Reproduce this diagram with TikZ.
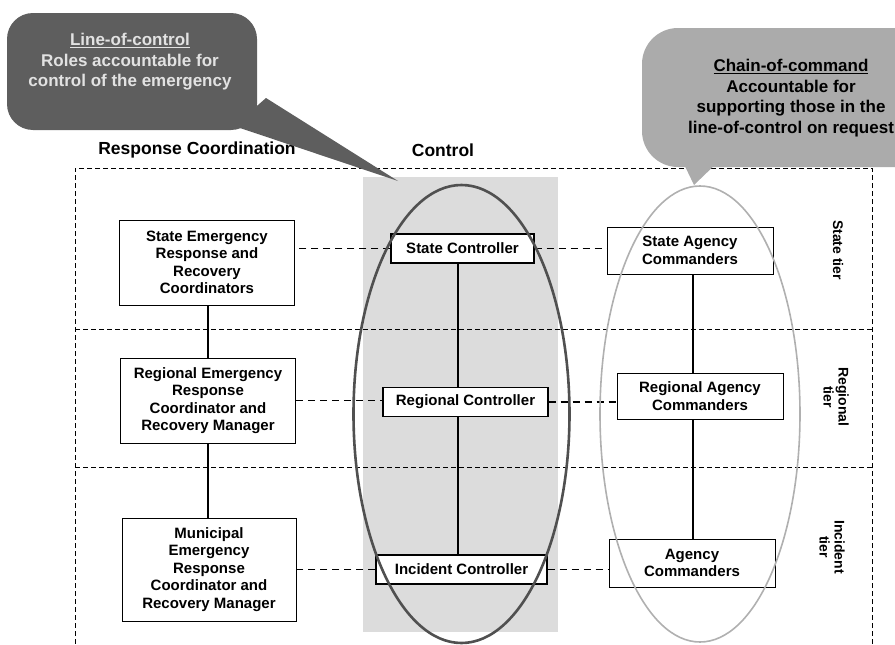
\documentclass[tikz,border=0pt]{standalone}
\usepackage{fontspec}
\setmainfont{Liberation Sans}
\usetikzlibrary{calc,backgrounds}
\definecolor{calloutdark}{HTML}{5E5E5E}
\definecolor{calloutlight}{HTML}{ABABAB}
\definecolor{shadegray}{HTML}{DCDCDC}
\definecolor{ringdark}{HTML}{505050}
\definecolor{ringlight}{HTML}{B0B0B0}
\definecolor{callouttext}{HTML}{E2E2E2}
\begin{document}
\begin{tikzpicture}[x=1pt,y=-1pt,
  boxtext/.style={font=\bfseries\fontsize{15}{17.5}\selectfont, align=center},
  orgbox/.style={boxtext, draw=black, line width=0.9pt, fill=white, inner sep=0pt},
  ctlbox/.style={boxtext, draw=black, line width=1.1pt, fill=white, inner sep=0pt, minimum height=29pt},
  tierline/.style={draw=black, line width=0.8pt, dash pattern=on 5pt off 3pt},
  linkdash/.style={draw=black, line width=1.5pt, dash pattern=on 7pt off 5pt},
  linksolid/.style={draw=black, line width=1.3pt},
  header/.style={font=\bfseries\fontsize{17.5}{20}\selectfont},
  tierlabel/.style={font=\bfseries\fontsize{14}{15}\selectfont, align=center, rotate=-90},
  callouttxt/.style={font=\bfseries\fontsize{17}{20.5}\selectfont, align=center}
]
\useasboundingbox (0,0) rectangle (895,645);
\clip (0,0) rectangle (895,645);

% headers
\node[header] (hresp) at (197,150) {Response Coordination};
\node[header] (hctl) at (443,150) {Control};

% tier labels
\node[tierlabel] (tstate) at (838,250) {State tier};
\node[tierlabel] (tregion) at (836,397) {Regional\\tier};
\node[tierlabel] (tincid) at (832,547) {Incident\\tier};

% coordinates for vertical links
\coordinate (lv) at (208,0);
\coordinate (cv) at (458,0);
\coordinate (av) at (693,0);

% boxes
\node[orgbox, minimum width=175pt, minimum height=85pt] (stbox) at (207,262.5)
  {State Emergency\\Response and\\Recovery\\Coordinators};
\node[orgbox, minimum width=175pt, minimum height=85pt] (rgbox) at (208,400.5)
  {Regional Emergency\\Response\\Coordinator and\\Recovery Manager};
\node[orgbox, minimum width=174pt, minimum height=103pt] (mubox) at (209,569.5)
  {Municipal\\Emergency\\Response\\Coordinator and\\Recovery Manager};

\node[ctlbox, minimum width=143pt] (stctl) at (462.5,248.5) {State Controller};
\node[ctlbox, minimum width=165pt] (rgctl) at (465.5,402) {Regional Controller};
\node[ctlbox, minimum width=171pt] (inctl) at (461.5,569.5) {Incident Controller};

\node[orgbox, minimum width=166pt, minimum height=47pt] (stag) at (690,250.5)
  {State Agency\\Commanders};
\node[orgbox, minimum width=166pt, minimum height=46pt] (rgag) at (700,396)
  {Regional Agency\\Commanders};
\node[orgbox, minimum width=166pt, minimum height=48pt] (inag) at (692,563)
  {Agency\\Commanders};

\begin{scope}[on background layer]
  % shaded control column
  \fill[shadegray] (363,177) rectangle (558,632);
  % outer frame and tier separators
  \draw[tierline] (872,700) -- (872,168) -- (75,168) -- (75,700);
  \draw[tierline] (75,329) -- (872,329);
  \draw[tierline] (75,467) -- (872,467);
  % links
  \draw[linksolid] (stbox.south -| lv) -- (rgbox.north -| lv);
  \draw[linksolid] (rgbox.south -| lv) -- (mubox.north -| lv);
  \draw[linksolid] (stctl.south -| cv) -- (rgctl.north -| cv);
  \draw[linksolid] (rgctl.south -| cv) -- (inctl.north -| cv);
  \draw[linksolid] (stag.south -| av) -- (rgag.north -| av);
  \draw[linksolid] (rgag.south -| av) -- (inag.north -| av);
  \draw[linkdash] (stctl.west) -- (stctl.west -| stbox.east);
  \draw[linkdash] (stctl.east) -- (stctl.east -| stag.west);
  \draw[linkdash] (rgbox.east) -- (rgbox.east -| rgctl.west);
  \draw[linkdash] (rgctl.east) -- (rgctl.east -| rgag.west);
  \draw[linkdash] (inctl.west) -- (inctl.west -| mubox.east);
  \draw[linkdash] (inctl.east) -- (inctl.east -| inag.west);
\end{scope}

% ellipses
\draw[ringdark, line width=2.6pt] (461.5,414) ellipse [x radius=108, y radius=229];
\draw[ringlight, line width=1.6pt] (700,414) ellipse [x radius=100, y radius=228];

% left callout
\fill[calloutdark, rounded corners=26pt] (7,13) rectangle (257,130);
\fill[calloutdark] (234,126) -- (266,98) -- (398,181) -- cycle;
\node[callouttxt, text=callouttext] (lc) at (130,62)
  {\underline{Line-of-control}\\Roles accountable for\\control of the emergency};

% right callout
\fill[calloutlight, rounded corners=36pt] (642,28) rectangle (935,167);
\fill[calloutlight] (682,160) -- (720,160) -- (694,185) -- cycle;
\node[callouttxt, text=black] (rc) at (791,98)
  {\underline{Chain-of-command}\\Accountable for\\supporting those in the\\line-of-control on request};
\end{tikzpicture}
\end{document}
